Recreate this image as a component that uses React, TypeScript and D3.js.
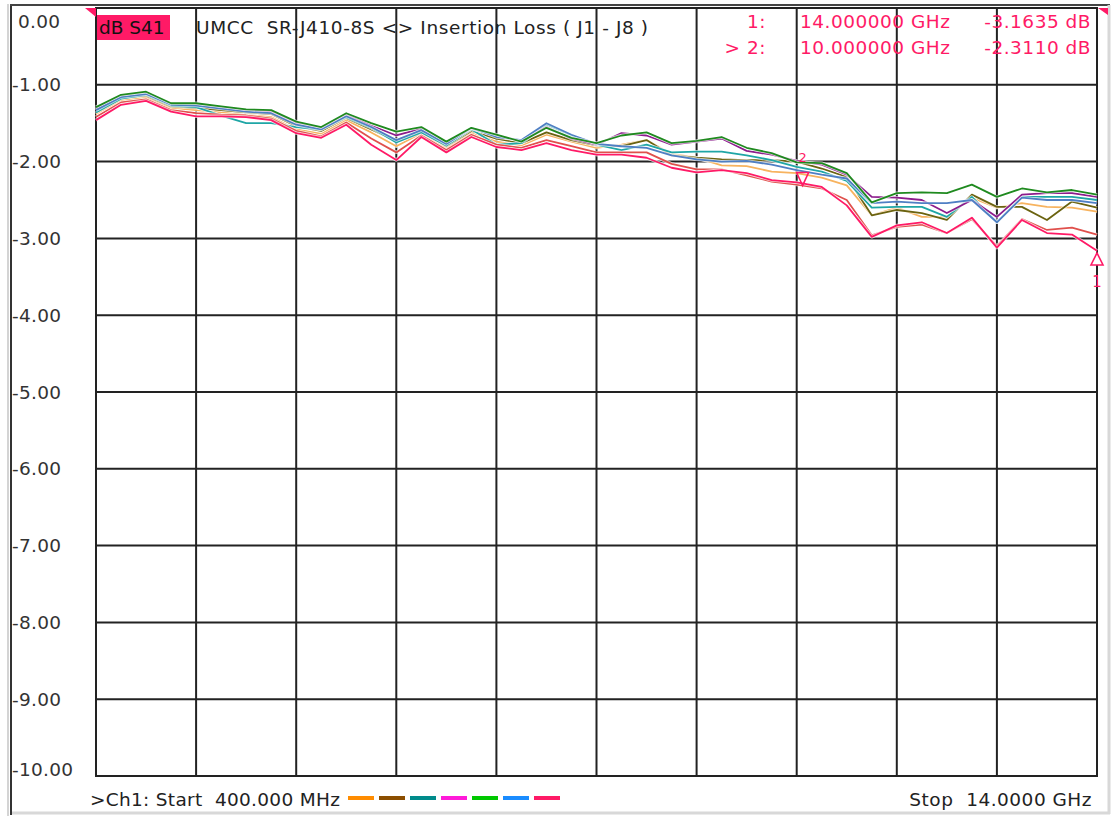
import React, { useEffect, useRef } from "react";
import * as d3 from "d3";

// frequency points (GHz), 400 MHz .. 14 GHz
const freqs = [
  0.4, 0.74, 1.08, 1.42, 1.76, 2.1, 2.44, 2.78, 3.12, 3.46, 3.8, 4.14, 4.48, 4.82,
  5.16, 5.5, 5.84, 6.18, 6.52, 6.86, 7.2, 7.54, 7.88, 8.22, 8.56, 8.9, 9.24, 9.58,
  9.92, 10.26, 10.6, 10.94, 11.28, 11.62, 11.96, 12.3, 12.64, 12.98, 13.32, 13.66, 14.0,
];

// insertion loss traces (dB)
const green = [
  -1.29, -1.13, -1.09, -1.24, -1.24, -1.28, -1.32, -1.33, -1.48, -1.55, -1.37, -1.5, -1.61, -1.55,
  -1.74, -1.56, -1.65, -1.74, -1.56, -1.69, -1.76, -1.66, -1.62, -1.76, -1.73, -1.68, -1.82, -1.89,
  -2.01, -2.02, -2.15, -2.53, -2.41, -2.4, -2.41, -2.3, -2.46, -2.35, -2.4, -2.37, -2.43,
];
const purple = [
  -1.31, -1.15, -1.11, -1.25, -1.26, -1.3, -1.33, -1.35, -1.5, -1.57, -1.39, -1.53, -1.66, -1.57,
  -1.76, -1.57, -1.66, -1.73, -1.55, -1.7, -1.78, -1.63, -1.66, -1.78, -1.74, -1.7, -1.86, -1.91,
  -1.99, -2.04, -2.17, -2.46, -2.47, -2.5, -2.67, -2.5, -2.72, -2.43, -2.41, -2.41, -2.46,
];
const olive = [
  -1.33, -1.17, -1.14, -1.28, -1.3, -1.33, -1.36, -1.38, -1.54, -1.6, -1.43, -1.58, -1.73, -1.6,
  -1.8, -1.6, -1.7, -1.76, -1.62, -1.72, -1.79, -1.8, -1.72, -1.92, -1.95, -1.97, -1.98, -1.98,
  -2.0, -2.09, -2.2, -2.7, -2.63, -2.67, -2.76, -2.43, -2.59, -2.59, -2.76, -2.52, -2.6,
];
const teal = [
  -1.36, -1.18, -1.13, -1.27, -1.29, -1.4, -1.5, -1.5, -1.55, -1.58, -1.42, -1.56, -1.75, -1.62,
  -1.79, -1.58, -1.78, -1.76, -1.52, -1.66, -1.78, -1.85, -1.78, -1.88, -1.87, -1.87, -1.92, -1.98,
  -2.07, -2.13, -2.25, -2.6, -2.59, -2.59, -2.72, -2.46, -2.79, -2.46, -2.46, -2.46, -2.5,
];
const blue = [
  -1.33, -1.16, -1.12, -1.26, -1.27, -1.31, -1.35, -1.37, -1.52, -1.58, -1.41, -1.55, -1.72, -1.59,
  -1.77, -1.56, -1.68, -1.72, -1.5, -1.65, -1.77, -1.8, -1.82, -1.92, -1.97, -2.0, -1.99, -2.04,
  -2.11, -2.17, -2.22, -2.54, -2.52, -2.54, -2.54, -2.5, -2.79, -2.47, -2.5, -2.5, -2.54,
];
const orange = [
  -1.38, -1.2, -1.16, -1.3, -1.33, -1.36, -1.39, -1.42, -1.58, -1.64, -1.46, -1.62, -1.8, -1.63,
  -1.82, -1.62, -1.74, -1.79, -1.65, -1.74, -1.82, -1.78, -1.72, -1.9, -1.95, -2.05, -2.06, -2.13,
  -2.15, -2.21, -2.31, -2.7, -2.6, -2.72, -2.72, -2.47, -2.6, -2.54, -2.59, -2.6, -2.65,
];
const red = [
  -1.42, -1.23, -1.19, -1.33, -1.37, -1.39, -1.4, -1.44, -1.6, -1.67, -1.49, -1.7, -1.88, -1.66,
  -1.85, -1.65, -1.78, -1.82, -1.72, -1.8, -1.88, -1.88, -1.88, -2.03, -2.1, -2.1, -2.18, -2.26,
  -2.3, -2.35, -2.5, -2.96, -2.85, -2.82, -2.93, -2.75, -3.1, -2.75, -2.89, -2.86, -2.95,
];
const pink = [
  -1.46, -1.26, -1.21, -1.35, -1.41, -1.41, -1.42, -1.46, -1.63, -1.69, -1.52, -1.78, -1.98, -1.68,
  -1.88, -1.68, -1.81, -1.85, -1.76, -1.85, -1.91, -1.91, -1.95, -2.08, -2.14, -2.11, -2.15, -2.24,
  -2.27, -2.33, -2.57, -2.98, -2.83, -2.79, -2.93, -2.73, -3.12, -2.76, -2.93, -2.95, -3.16,
];

const traces = [
  { values: orange, color: "#f7b35f" },
  { values: olive, color: "#6b6310" },
  { values: teal, color: "#1fa6a6" },
  { values: purple, color: "#8c1c8c" },
  { values: blue, color: "#4f7fc4" },
  { values: green, color: "#1f8a1f" },
  { values: red, color: "#e0504c" },
  { values: pink, color: "#ff1a66" },
];

const yLabels = ["0.00", "-1.00", "-2.00", "-3.00", "-4.00", "-5.00", "-6.00", "-7.00", "-8.00", "-9.00", "-10.00"];
const legendColors = ["#ff8c00", "#8b4e00", "#008b8b", "#ff1ad9", "#00c800", "#1a8cff", "#ff1a66"];

const markers = [
  { id: "1", freq: 14.0, value: -3.1635, up: true },
  { id: "2", freq: 10.0, value: -2.311, up: false },
];

const W = 1118;
const H = 817;
const PINK = "#ff1a66";
const FONT = "'DejaVu Sans', Verdana, sans-serif";
const FS = 18.5;

const drawChart = (node: SVGSVGElement) => {
  const svg = d3.select(node);
  svg.selectAll("*").remove();

  const x = d3.scaleLinear().domain([0.4, 14]).range([96, 1097]);
  const y = d3.scaleLinear().domain([-10, 0]).range([776, 8]);

  // window frame
  svg.append("rect").attr("x", 0).attr("y", 0).attr("width", W).attr("height", H).attr("fill", "#fff");
  svg.append("line").attr("x1", 8).attr("x2", 8).attr("y1", 4).attr("y2", 816).attr("stroke", "#d4d4d4").attr("stroke-width", 2);
  svg.append("line").attr("x1", 11).attr("x2", 11).attr("y1", 4).attr("y2", 815).attr("stroke", "#333").attr("stroke-width", 2);
  svg.append("line").attr("x1", 10).attr("x2", 1110).attr("y1", 5).attr("y2", 5).attr("stroke", "#444").attr("stroke-width", 2);
  svg.append("line").attr("x1", 1109).attr("x2", 1109).attr("y1", 5).attr("y2", 814).attr("stroke", "#d8d8d8").attr("stroke-width", 3);
  svg.append("line").attr("x1", 12).attr("x2", 1110).attr("y1", 813).attr("y2", 813).attr("stroke", "#d8d8d8").attr("stroke-width", 3);

  // grid
  const xTicks = d3.range(0, 11).map((i) => 0.4 + i * 1.36);
  const yTicks = d3.range(0, 11).map((i) => -i);
  const grid = svg.append("g").attr("stroke", "#222").attr("stroke-width", 2);
  grid
    .selectAll("line.v")
    .data(xTicks)
    .enter()
    .append("line")
    .attr("x1", (d) => x(d))
    .attr("x2", (d) => x(d))
    .attr("y1", y(0))
    .attr("y2", y(-10));
  grid
    .selectAll("line.h")
    .data(yTicks)
    .enter()
    .append("line")
    .attr("x1", x(0.4) - 1)
    .attr("x2", x(14) + 1)
    .attr("y1", (d) => y(d))
    .attr("y2", (d) => y(d));

  // y labels
  svg
    .append("g")
    .selectAll("text")
    .data(yLabels)
    .enter()
    .append("text")
    .attr("x", (d, i) => (i === 0 ? 18 : 12))
    .attr("y", (d, i) => (i === 0 ? y(0) + 13 : i === 10 ? y(-10) - 7 : y(-i)))
    .attr("dy", "0.36em")
    .attr("font-family", FONT)
    .attr("font-size", FS)
    .attr("letter-spacing", 0.3)
    .attr("fill", "#333")
    .text((d) => d);

  // reference level arrows
  svg.append("polygon").attr("points", "85,8 96,8 96,17").attr("fill", PINK);
  svg.append("polygon").attr("points", "1098,8 1108,8 1108,15").attr("fill", PINK);

  // traces
  const line = d3
    .line<number>()
    .x((d, i) => x(freqs[i]))
    .y((d) => y(d));
  const tg = svg.append("g").attr("fill", "none").attr("stroke-linejoin", "round");
  traces.forEach((t) => {
    tg.append("path").attr("d", line(t.values)).attr("stroke", "#fff").attr("stroke-opacity", 0.7).attr("stroke-width", 3.4);
    tg.append("path").attr("d", line(t.values)).attr("stroke", t.color).attr("stroke-width", 1.8);
  });

  // markers
  markers.forEach((m) => {
    const px = x(m.freq);
    const py = y(m.value);
    if (m.up) {
      svg
        .append("polygon")
        .attr("points", `${px},${py + 2} ${px - 6},${py + 14} ${px + 6},${py + 14}`)
        .attr("fill", "#fff")
        .attr("stroke", PINK)
        .attr("stroke-width", 1.6);
      svg.append("text").attr("x", px).attr("y", py + 36).attr("text-anchor", "middle").attr("font-family", FONT).attr("font-size", 15).attr("fill", PINK).text(m.id);
    } else {
      svg
        .append("polygon")
        .attr("points", `${px},${py} ${px - 6},${py - 13} ${px + 6},${py - 13}`)
        .attr("fill", "none")
        .attr("stroke", PINK)
        .attr("stroke-width", 1.6);
      svg.append("text").attr("x", px).attr("y", py - 23).attr("text-anchor", "middle").attr("font-family", FONT).attr("font-size", 13).attr("fill", PINK).text(m.id);
    }
  });

  // header
  svg.append("rect").attr("x", 97).attr("y", 15).attr("width", 73).attr("height", 25).attr("fill", PINK);
  svg.append("text").attr("x", 99).attr("y", 34).attr("font-family", FONT).attr("font-size", FS).attr("fill", "#111").text("dB S41");
  svg
    .append("text")
    .attr("x", 196)
    .attr("y", 34)
    .attr("font-family", FONT)
    .attr("font-size", FS)
    .attr("letter-spacing", 0.6)
    .attr("fill", "#222")
    .style("white-space", "pre")
    .text("UMCC  SR-J410-8S <> Insertion Loss ( J1 - J8 )");

  const readouts = [
    { label: "1:", freq: "14.000000 GHz", value: "-3.1635 dB", yy: 28 },
    { label: "> 2:", freq: "10.000000 GHz", value: "-2.3110 dB", yy: 54 },
  ];
  const rg = svg.append("g").attr("font-family", FONT).attr("font-size", FS).attr("letter-spacing", 0.5).attr("fill", PINK);
  readouts.forEach((r) => {
    rg.append("text").attr("x", 766).attr("y", r.yy).attr("text-anchor", "end").text(r.label);
    rg.append("text").attr("x", 800).attr("y", r.yy).text(r.freq);
    rg.append("text").attr("x", 1091).attr("y", r.yy).attr("text-anchor", "end").text(r.value);
  });

  // footer
  svg
    .append("text")
    .attr("x", 90)
    .attr("y", 806)
    .attr("font-family", FONT)
    .attr("font-size", FS)
    .attr("letter-spacing", 0.3)
    .attr("fill", "#222")
    .style("white-space", "pre")
    .text(">Ch1: Start  400.000 MHz");
  svg
    .append("g")
    .selectAll("line")
    .data(legendColors)
    .enter()
    .append("line")
    .attr("x1", (d, i) => 348 + i * 31)
    .attr("x2", (d, i) => 374 + i * 31)
    .attr("y1", 798)
    .attr("y2", 798)
    .attr("stroke", (d) => d)
    .attr("stroke-width", 4);
  svg
    .append("text")
    .attr("x", 1092)
    .attr("y", 806)
    .attr("text-anchor", "end")
    .attr("font-family", FONT)
    .attr("font-size", FS)
    .attr("letter-spacing", 0.5)
    .attr("fill", "#222")
    .style("white-space", "pre")
    .text("Stop  14.0000 GHz");
};

const App = () => {
  const ref = useRef<SVGSVGElement>(null);
  useEffect(() => {
    if (ref.current) drawChart(ref.current);
  }, []);
  return (
    <svg
      ref={ref}
      width={W}
      height={H}
      style={{ position: "absolute", left: 0, top: 0, display: "block" }}
    ></svg>
  );
};

export default App;
